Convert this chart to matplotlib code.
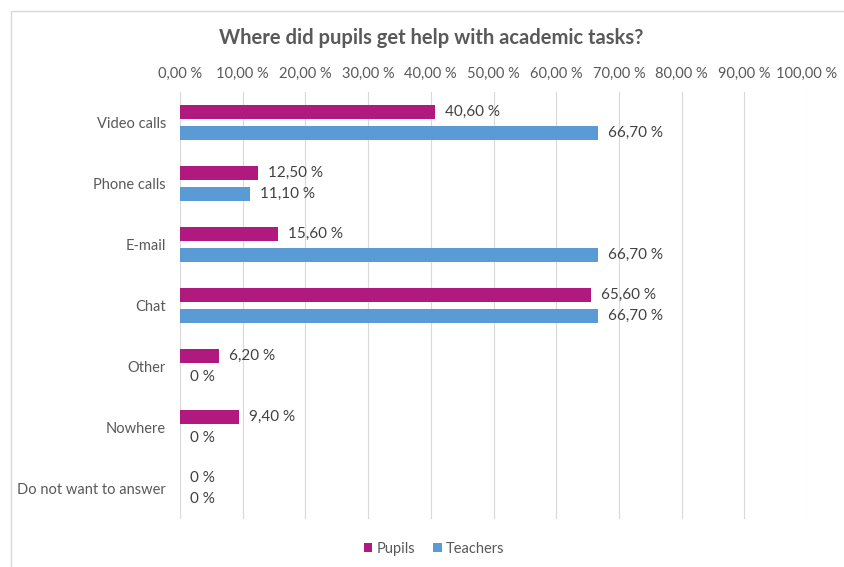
import matplotlib
matplotlib.use("Agg")
import matplotlib.pyplot as plt
from matplotlib.patches import Rectangle
import numpy as np

categories = ["Video calls", "Phone calls", "E-mail", "Chat", "Other", "Nowhere", "Do not want to answer"]
pupils = [40.6, 12.5, 15.6, 65.6, 6.2, 9.4, 0.0]
teachers = [66.7, 11.1, 66.7, 66.7, 0.0, 0.0, 0.0]
xticks = list(range(0, 101, 10))

plt.rcParams['font.family'] = ['Lato', 'DejaVu Sans']

def fmt(v):
    if v == 0:
        return "0 %"
    return f"{v:.2f}".replace(".", ",") + " %"

fig = plt.figure(figsize=(8.44, 5.67), dpi=100)
fig.patches.append(Rectangle((11/844, -0.05), 1.0, (567-11)/567 + 0.05,
                             transform=fig.transFigure, fill=False,
                             edgecolor="#D9D9D9", linewidth=1))
ax = fig.add_axes([180/844, 1-519/567, (807-180)/844, (519-92)/567])

c_p = "#B0197E"
c_t = "#5B9BD5"
n = len(categories)
y = np.arange(n)
h = 0.24
off = 0.17
ax.barh(y - off, pupils, height=h, color=c_p, label="Pupils")
ax.barh(y + off, teachers, height=h, color=c_t, label="Teachers")

for i in range(n):
    ax.text(pupils[i] + 1.6, y[i] - off, fmt(pupils[i]), va="center", ha="left",
            fontsize=11, color="#404040")
    ax.text(teachers[i] + 1.6, y[i] + off, fmt(teachers[i]), va="center", ha="left",
            fontsize=11, color="#404040")

ax.set_xlim(0, 100)
ax.set_ylim(n - 0.5, -0.5)
ax.set_xticks(xticks)
ax.set_xticklabels([f"{t},00 %" for t in xticks], fontsize=10.5, color="#595959")
ax.xaxis.tick_top()
ax.tick_params(axis="x", length=0, pad=8)
ax.set_yticks(y)
ax.set_yticklabels(categories, fontsize=10.5, color="#595959")
ax.tick_params(axis="y", length=0, pad=10)
ax.grid(axis="x", color="#D9D9D9", linewidth=0.8)
ax.set_axisbelow(True)
for s in ax.spines.values():
    s.set_visible(False)

fig.text(431/844, 1-38/567, "Where did pupils get help with academic tasks?",
         ha="center", va="center", fontsize=14.5, fontweight="bold", color="#595959")

leg = fig.legend(loc="center", bbox_to_anchor=(434/844, 1-549/567), ncol=2, frameon=False,
                 fontsize=10.5, handlelength=0.6, handleheight=0.6, handletextpad=0.3,
                 columnspacing=1.2)
for t in leg.get_texts():
    t.set_color("#595959")

fig.savefig("out.png", dpi=100)
